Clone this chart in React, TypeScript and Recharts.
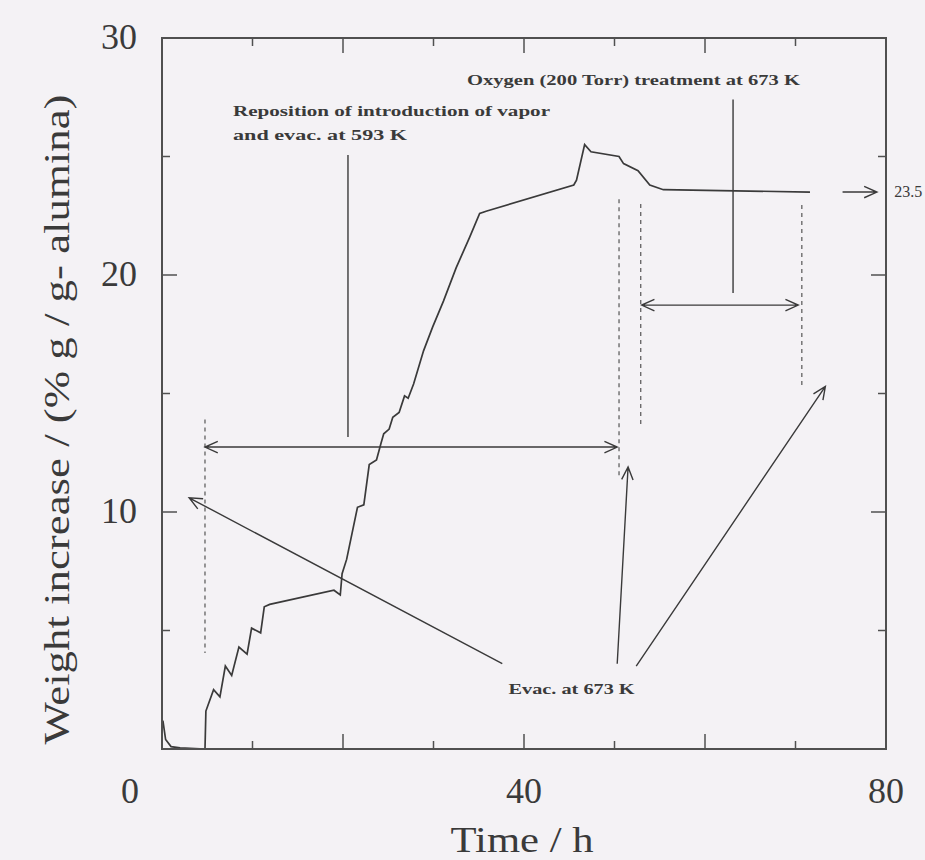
import React from "react";
import { LineChart, Line, XAxis, YAxis, ReferenceLine, ReferenceDot, ReferenceArea } from "recharts";

// Weight gain trace: time (h) vs weight increase (% g / g-alumina)
const FINAL = 23.5;
const timeH = [
  0.1, 0.4, 1.0, 2.0, 4.75, 4.85, 5.7, 6.4, 7.0, 7.7, 8.5, 9.4, 9.9, 10.9, 11.3, 11.9,
  19.0, 19.7, 19.9, 20.4, 21.6, 22.3, 22.9, 23.7, 24.2, 24.5, 25.1, 25.5, 26.2, 26.8,
  27.2, 27.8, 28.9, 29.9, 31.1, 32.5, 34.0, 35.1, 35.9, 45.5, 45.8, 46.7, 47.4, 50.5,
  51.0, 52.6, 53.9, 55.4, 71.6,
];
const weightPct = [
  1.2, 0.4, 0.1, 0.05, 0, 1.6, 2.5, 2.2, 3.5, 3.1, 4.3, 4.0, 5.1, 4.9, 6.0, 6.1,
  6.7, 6.5, 7.4, 8.0, 10.2, 10.3, 12.0, 12.2, 12.9, 13.3, 13.5, 14.0, 14.2, 14.9,
  14.8, 15.4, 16.8, 17.8, 18.9, 20.3, 21.6, 22.6, 22.7, 23.8, 24.0, 25.5, 25.2, 25.0,
  24.7, 24.4, 23.8, 23.6, FINAL,
];

const xTicks = [0, 10, 20, 30, 40, 50, 60, 70, 80];
const xLabels = [0, 40, 80];
const yTicks = [0, 5, 10, 15, 20, 25, 30];
const yLabels = [10, 20, 30];

// dashed guides: time, top, bottom
const guideT = [4.75, 50.5, 52.9, 70.7];
const guideTop = [13.9, 23.2, 23.0, 22.95];
const guideBottom = [4.05, 11.4, 13.6, 15.3];

// plain vertical leaders from the captions
const leaderT = [20.55, 63.1];
const leaderTop = [25.06, 27.4];
const leaderBottom = [13.16, 19.24];

// arrows: [t1, w1, t2, w2], heads
const arrowSeg = [
  [4.75, 12.74, 50.3, 12.74],
  [53.0, 18.73, 70.3, 18.73],
  [37.6, 3.6, 3.0, 10.6],
  [50.3, 3.6, 51.5, 11.9],
  [52.4, 3.5, 73.3, 15.3],
  [75.2, FINAL, 79.0, FINAL],
];
const arrowHeads = ["both", "both", "end", "end", "end", "end"];

// captions: text, t, w, drawn width
const noteText = [
  "Reposition of introduction of vapor",
  "and evac. at 593 K",
  "Oxygen (200 Torr) treatment at 673 K",
  "Evac. at 673 K",
];
const noteT = [7.85, 7.85, 33.7, 38.3];
const noteW = [26.7, 25.7, 28.0, 2.3];
const noteLen = [317, 174, 333, 126];

const data = timeH.map((t, i) => ({ t, w: weightPct[i] }));

const BG = "#f4f2f5";
const INK = "#3a3a3a";
const FRAME = "#505050";
const SERIF = "'Liberation Serif', 'DejaVu Serif', serif";

const MARGIN = { top: 38, right: 38, bottom: 110, left: 161 };
const PLOT_TOP = MARGIN.top;

const tickLen = (v: number, major: number) => (v % major === 0 ? 15 : 8);

// bottom axis tick also draws its twin on the top edge of the frame
function BottomTick({ x, y, payload }: any) {
  const v = payload.value as number;
  const len = tickLen(v, 20);
  return (
    <g>
      <line x1={x} y1={y} x2={x} y2={y - len} stroke={FRAME} strokeWidth={1.5} />
      <line x1={x} y1={PLOT_TOP} x2={x} y2={PLOT_TOP + len} stroke={FRAME} strokeWidth={1.5} />
      {xLabels.includes(v) && (
        <text x={v === 0 ? x - 32 : x} y={y + 54} textAnchor="middle" fontSize={36} fill={INK} fontFamily={SERIF}>
          {v}
        </text>
      )}
    </g>
  );
}

function LeftTick({ x, y, payload }: any) {
  const v = payload.value as number;
  return (
    <g>
      <line x1={x} y1={y} x2={x + tickLen(v, 10)} y2={y} stroke={FRAME} strokeWidth={1.5} />
      {yLabels.includes(v) && (
        <text x={x - 25} y={y + 11} textAnchor="end" fontSize={36} fill={INK} fontFamily={SERIF}>
          {v}
        </text>
      )}
    </g>
  );
}

function RightTick({ x, y, payload }: any) {
  const v = payload.value as number;
  return <line x1={x} y1={y} x2={x - tickLen(v, 10)} y2={y} stroke={FRAME} strokeWidth={1.5} />;
}

function XTitle({ viewBox }: any) {
  const cx = viewBox.x + viewBox.width / 2 - 2;
  return (
    <text x={cx} y={viewBox.y + 103} textAnchor="middle" fontSize={36} fill={INK} fontFamily={SERIF} textLength={143} lengthAdjust="spacingAndGlyphs">
      Time / h
    </text>
  );
}

function YTitle({ viewBox }: any) {
  const cx = viewBox.x - 104;
  const cy = viewBox.y + viewBox.height / 2 + 26;
  return (
    <text
      x={cx}
      y={cy}
      transform={`rotate(-90, ${cx}, ${cy})`}
      textAnchor="middle"
      dominantBaseline="central"
      fontSize={35}
      fill={INK}
      fontFamily={SERIF}
      textLength={650}
      lengthAdjust="spacingAndGlyphs"
    >
      Weight increase / (% g / g- alumina)
    </text>
  );
}

const arrowShape = (heads: string) => (p: any) => {
  const { x1, y1, x2, y2 } = p;
  const a = Math.atan2(y2 - y1, x2 - x1);
  const barb = (x: number, y: number, dir: number) => {
    const l = 14;
    const w = 0.42;
    return ` M${x + l * Math.cos(dir + w)},${y + l * Math.sin(dir + w)} L${x},${y} L${x + l * Math.cos(dir - w)},${y + l * Math.sin(dir - w)}`;
  };
  let d = `M${x1},${y1} L${x2},${y2}`;
  if (heads !== "start") d += barb(x2, y2, a + Math.PI);
  if (heads !== "end") d += barb(x1, y1, a);
  return <path d={d} fill="none" stroke={INK} strokeWidth={1.4} />;
};

const noteShape = (text: string, len: number, size: number) => (p: any) => (
  <text
    x={p.cx}
    y={p.cy}
    fontSize={size}
    fontWeight="bold"
    fill={INK}
    fontFamily={SERIF}
    textLength={len}
    lengthAdjust="spacingAndGlyphs"
  >
    {text}
  </text>
);

// axes are 1px thick (a zero-sized axis is not drawn), margins make up for it
export default function App() {
  return (
    <div style={{ position: "absolute", left: 0, top: 0, width: 925, height: 860, background: BG }}>
      <LineChart width={925} height={860} data={data} margin={MARGIN}>
        <XAxis
          dataKey="t"
          type="number"
          domain={[0, 80]}
          ticks={xTicks}
          interval={0}
          height={1}
          tickSize={0}
          tickMargin={0}
          tickLine={false}
          axisLine={{ stroke: FRAME, strokeWidth: 2 }}
          tick={<BottomTick />}
          label={<XTitle />}
          allowDataOverflow
        />
        <YAxis
          type="number"
          domain={[0, 30]}
          ticks={yTicks}
          interval={0}
          width={1}
          tickSize={0}
          tickMargin={0}
          tickLine={false}
          axisLine={{ stroke: FRAME, strokeWidth: 2 }}
          tick={<LeftTick />}
          label={<YTitle />}
          allowDataOverflow
        />
        <YAxis
          yAxisId="right"
          orientation="right"
          type="number"
          domain={[0, 30]}
          ticks={yTicks}
          interval={0}
          width={1}
          tickSize={0}
          tickMargin={0}
          tickLine={false}
          axisLine={{ stroke: FRAME, strokeWidth: 2 }}
          tick={<RightTick />}
          allowDataOverflow
        />

        {/* closing frame around the plot */}
        <ReferenceArea x1={0} x2={80} y1={0} y2={30} fill="none" stroke={FRAME} strokeWidth={2} ifOverflow="visible" />

        {guideT.map((t, i) => (
          <ReferenceLine
            key={`g${i}`}
            segment={[{ x: t, y: guideTop[i] }, { x: t, y: guideBottom[i] }]}
            stroke="#555"
            strokeWidth={1.2}
            strokeDasharray="4 4"
            ifOverflow="visible"
          />
        ))}
        {leaderT.map((t, i) => (
          <ReferenceLine
            key={`l${i}`}
            segment={[{ x: t, y: leaderTop[i] }, { x: t, y: leaderBottom[i] }]}
            stroke={INK}
            strokeWidth={1.4}
            ifOverflow="visible"
          />
        ))}
        {arrowSeg.map((s, i) => (
          <ReferenceLine
            key={`a${i}`}
            segment={[{ x: s[0], y: s[1] }, { x: s[2], y: s[3] }]}
            shape={arrowShape(arrowHeads[i])}
            ifOverflow="visible"
          />
        ))}

        <Line
          dataKey="w"
          type="linear"
          stroke="#3a3a3a"
          strokeWidth={1.7}
          dot={false}
          activeDot={false}
          isAnimationActive={false}
        />

        {noteText.map((text, i) => (
          <ReferenceDot
            key={`n${i}`}
            x={noteT[i]}
            y={noteW[i]}
            r={0}
            ifOverflow="visible"
            shape={noteShape(text, noteLen[i], 14)}
          />
        ))}
        <ReferenceDot
          x={80.9}
          y={FINAL}
          r={0}
          ifOverflow="visible"
          shape={(p: any) => (
            <text x={p.cx} y={p.cy + 5} fontSize={16} fill={INK} fontFamily={SERIF}>
              {FINAL}
            </text>
          )}
        />
      </LineChart>
    </div>
  );
}
